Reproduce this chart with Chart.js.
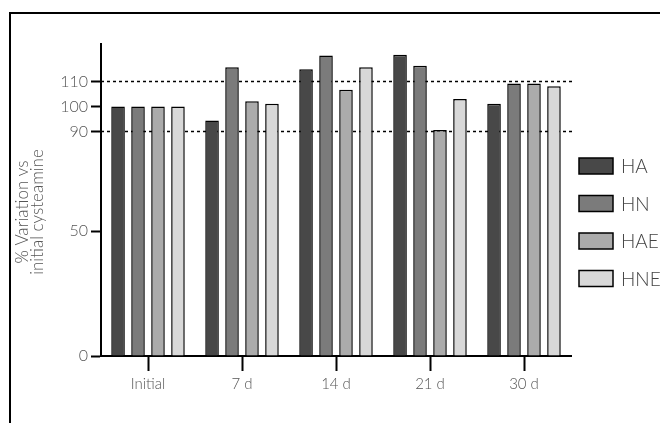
<!DOCTYPE html>
<html>
<head>
<meta charset="utf-8">
<script src="https://cdn.jsdelivr.net/npm/chart.js@4"></script>
<style>
  html, body { margin: 0; padding: 0; background: #fff; }
  #wrap { position: relative; width: 660px; height: 423px; overflow: hidden; }
  #frame { position: absolute; left: 9px; top: 12px; width: 700px; height: 500px;
           border-top: 2.5px solid #000; border-left: 2.5px solid #000; }
  canvas { position: absolute; left: 0; top: 0; }
</style>
</head>
<body>
<div id="wrap">
  <div id="frame"></div>
  <canvas id="c" width="660" height="423"></canvas>
</div>
<script>
const categories = ['Initial', '7 d', '14 d', '21 d', '30 d'];
const seriesNames = ['HA', 'HN', 'HAE', 'HNE'];
const HA  = [100, 94.4, 114.9, 120.7, 101.1];
const HN  = [100, 115.7, 120.4, 116.3, 109.2];
const HAE = [100, 102.1, 106.7, 90.5, 109.2];
const HNE = [100, 101.1, 115.7, 103.0, 108.1];
const yTickValues = [0, 50, 90, 100, 110];
const refLines = [90, 110];
const yTitleLines = ['% Variation vs', 'initial cysteamine'];
const colors = ['#484848', '#7b7b7b', '#ababab', '#d8d8d8'];

const FONT = 'Lato, "Open Sans", sans-serif';

const refLinePlugin = {
  id: 'refLines',
  beforeDatasetsDraw(chart) {
    const ctx = chart.ctx, y = chart.scales.y, a = chart.chartArea;
    ctx.save();
    ctx.strokeStyle = '#000';
    ctx.lineWidth = 1.5;
    ctx.setLineDash([3, 3]);
    refLines.forEach(v => {
      const py = Math.round(y.getPixelForValue(v)) + 0.5;
      ctx.beginPath();
      ctx.moveTo(a.left, py);
      ctx.lineTo(a.right + 1, py);
      ctx.stroke();
    });
    ctx.restore();
  }
};

const yTitlePlugin = {
  id: 'yTitle',
  afterDraw(chart) {
    const ctx = chart.ctx;
    ctx.save();
    ctx.translate(30, 212);
    ctx.rotate(-Math.PI / 2);
    ctx.fillStyle = '#555';
    ctx.font = '300 17px ' + FONT;
    ctx.textAlign = 'center';
    ctx.textBaseline = 'middle';
    yTitleLines.forEach((t, i) => ctx.fillText(t, 0, -7 + i * 15));
    ctx.restore();
  }
};

const legendPlugin = {
  id: 'sideLegend',
  afterDraw(chart) {
    const ctx = chart.ctx;
    ctx.save();
    chart.data.datasets.forEach((ds, i) => {
      const cy = 166 + i * 37.5;
      ctx.fillStyle = ds.backgroundColor;
      ctx.fillRect(579, cy - 8, 34, 16);
      ctx.strokeStyle = '#000';
      ctx.lineWidth = 1.5;
      ctx.strokeRect(579, cy - 8, 34, 16);
      ctx.fillStyle = '#444';
      ctx.font = '300 19px ' + FONT;
      ctx.textBaseline = 'middle';
      ctx.textAlign = 'left';
      ctx.fillText(ds.label, 621, cy + 1);
    });
    ctx.restore();
  }
};

const seriesData = [HA, HN, HAE, HNE];

new Chart(document.getElementById('c'), {
  type: 'bar',
  data: {
    labels: categories,
    datasets: seriesNames.map((n, i) => ({
      label: n,
      data: seriesData[i],
      backgroundColor: colors[i],
      borderColor: '#000',
      borderWidth: 1.5,
      categoryPercentage: 0.85,
      barPercentage: 0.68
    }))
  },
  options: {
    responsive: false,
    devicePixelRatio: 1,
    animation: false,
    layout: { padding: { left: 10, top: 44, right: 89, bottom: 0 } },
    plugins: { legend: { display: false }, tooltip: { enabled: false } },
    scales: {
      x: {
        grid: { display: true, drawOnChartArea: false, offset: false, tickLength: 15, tickWidth: 2, tickColor: '#000', color: '#000' },
        border: { display: true, color: '#000', width: 2 },
        ticks: { color: '#555', font: { family: FONT, size: 15, weight: 300 }, padding: 4 },
        afterFit(s) { s.height = 67; }
      },
      y: {
        min: 0, max: 125,
        afterBuildTicks(s) { s.ticks = yTickValues.map(v => ({ value: v })); },
        grid: { display: true, drawOnChartArea: false, tickLength: 10, tickWidth: 2, tickColor: '#000', color: '#000' },
        border: { display: true, color: '#000', width: 2 },
        ticks: { color: '#555', font: { family: FONT, size: 16, weight: 300 }, padding: 3, autoSkip: false },
        title: { display: false },
        afterFit(s) { s.width = 91; }
      }
    }
  },
  plugins: [refLinePlugin, yTitlePlugin, legendPlugin]
});
</script>
</body>
</html>
